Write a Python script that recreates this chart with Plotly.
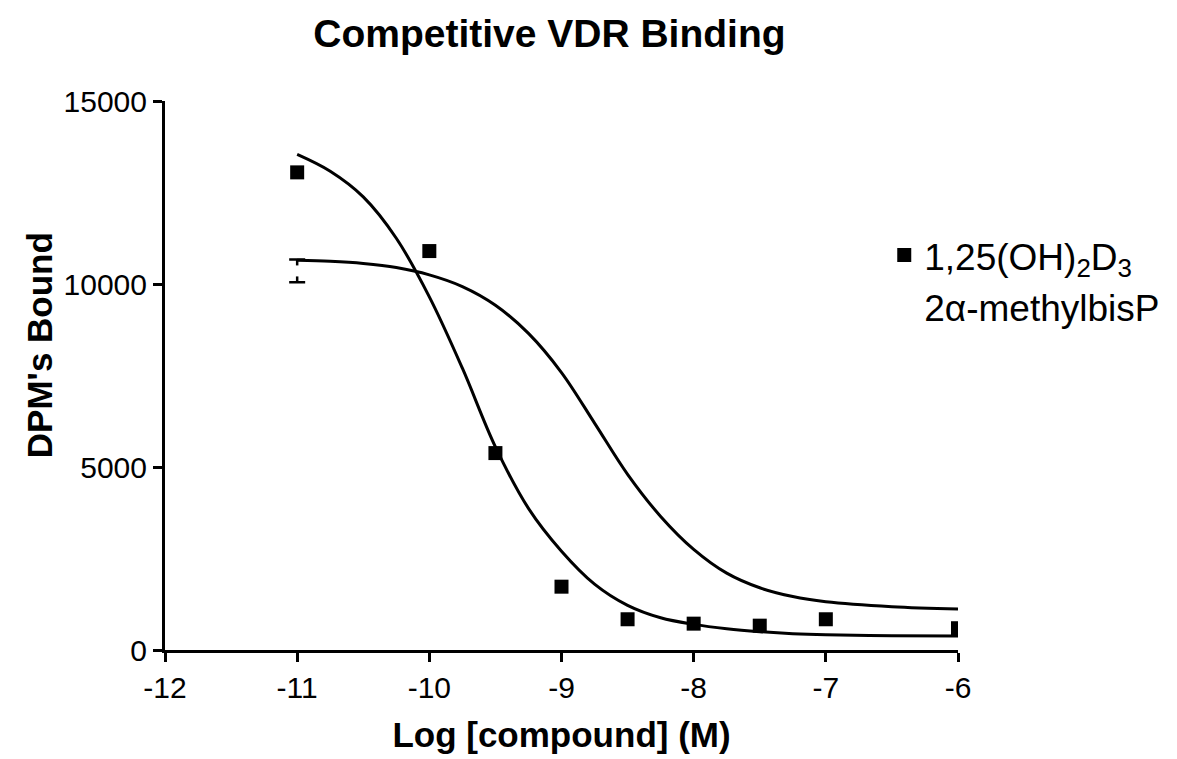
import plotly.graph_objects as go

# Measured data points
x_pts = [-11, -10, -9.5, -9, -8.5, -8, -7.5, -7, -6]
y_calcitriol = [13050, 10900, 5380, 1730, 840, 720, 665, 840, 595]

x_bisp = [-11]
y_bisp = [10357]
err_bisp = [310]

# Fitted curves
x_curve = [-11, -10.75, -10.5, -10.25, -10, -9.75, -9.5, -9.25, -9, -8.75, -8.5,
           -8.25, -8, -7.75, -7.5, -7.25, -7, -6.5, -6]
y_curve_calcitriol = [13540, 13080, 12380, 11250, 9650, 7700, 5550, 3870, 2700, 1800,
                      1220, 880, 700, 580, 500, 445, 415, 392, 383]
y_curve_bisp = [10650, 10620, 10560, 10450, 10250, 9930, 9420, 8650, 7580, 6200, 4800,
                3650, 2750, 2100, 1700, 1460, 1320, 1185, 1120]

x_ticks = [-12, -11, -10, -9, -8, -7, -6]
x_ticklabels = ["-12", "-11", "-10", "-9", "-8", "-7", "-6"]
y_ticks = [0, 5000, 10000, 15000]
y_ticklabels = ["0", "5000", "10000", "15000"]

FONT = "Arial, Liberation Sans, sans-serif"

fig = go.Figure()

fig.add_trace(go.Scatter(
    x=x_bisp, y=y_bisp, mode="markers", name="2α-methylbisP",
    marker=dict(symbol="square", size=11, color="white"),
    error_y=dict(type="data", array=err_bisp, color="black", thickness=2.5, width=8),
    legendrank=2,
))

fig.add_trace(go.Scatter(
    x=x_curve, y=y_curve_calcitriol, mode="lines",
    line=dict(color="black", width=3, shape="spline", smoothing=1),
    showlegend=False, hoverinfo="skip",
))
fig.add_trace(go.Scatter(
    x=x_curve, y=y_curve_bisp, mode="lines",
    line=dict(color="black", width=3, shape="spline", smoothing=1),
    showlegend=False, hoverinfo="skip",
))

fig.add_trace(go.Scatter(
    x=x_pts, y=y_calcitriol, mode="markers", name="1,25(OH)<sub>2</sub>D<sub>3</sub>",
    marker=dict(symbol="square", size=14, color="black"),
    legendrank=1,
))

fig.update_layout(
    width=1177, height=759,
    paper_bgcolor="white", plot_bgcolor="white",
    margin=dict(l=157, r=227, t=93, b=117),
    font=dict(family=FONT, color="black"),
    title=dict(text="<b>Competitive VDR Binding</b>", x=0.46, xanchor="center",
               y=0.984, yanchor="top", font=dict(size=39, family=FONT)),
    showlegend=True,
    legend=dict(x=0.907, xanchor="left", y=0.775, yanchor="top",
                font=dict(size=37, family=FONT), traceorder="normal",
                bgcolor="rgba(0,0,0,0)", itemwidth=30),
    xaxis=dict(range=[-12, -6], tickvals=x_ticks, ticktext=x_ticklabels,
               ticks="outside", ticklen=9, tickwidth=2.5, tickcolor="black",
               showline=True, linewidth=3, linecolor="black", showgrid=False, zeroline=False,
               tickfont=dict(size=30, family=FONT),
               title=dict(text="<b>Log [compound] (M)</b>", font=dict(size=35, family=FONT), standoff=20)),
    yaxis=dict(range=[0, 15000], tickvals=y_ticks, ticktext=y_ticklabels,
               ticks="outside", ticklen=9, tickwidth=2.5, tickcolor="black",
               showline=True, linewidth=3, linecolor="black", showgrid=False, zeroline=False,
               tickfont=dict(size=30, family=FONT)),
    annotations=[dict(text="<b>DPM's Bound</b>", textangle=-90, xref="paper", yref="paper",
                      x=-0.159, y=0.555, xanchor="center", yanchor="middle", showarrow=False,
                      font=dict(size=35, family=FONT))],
)

fig.write_html("out.html")
